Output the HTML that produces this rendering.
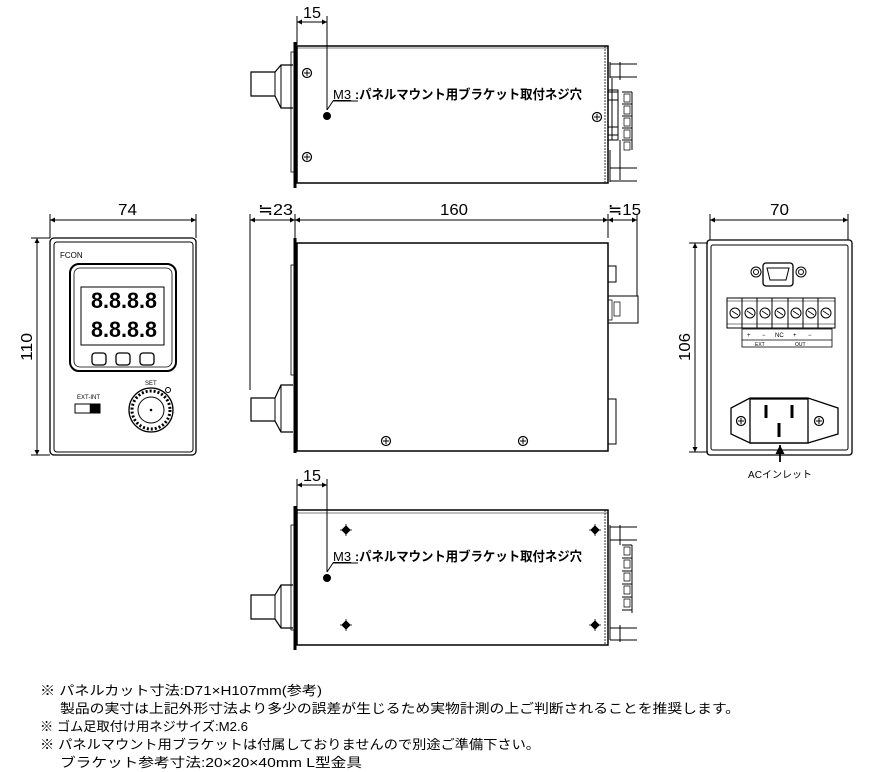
<!DOCTYPE html>
<html><head><meta charset="utf-8"><style>
html,body{margin:0;padding:0;background:#fff;}
svg{display:block;}
text{font-family:"Liberation Sans","Noto Sans CJK JP",sans-serif;fill:#000;}
</style></head><body>
<svg width="879" height="772" viewBox="0 0 879 772" xmlns="http://www.w3.org/2000/svg">
<defs>
<marker id="a" viewBox="0 0 10 10" refX="10" refY="5" markerWidth="7" markerHeight="5" orient="auto-start-reverse"><path d="M0,0 L10,5 L0,10 z" fill="#000"/></marker>
<g id="scr"><circle r="4.5" fill="#fff" stroke="#000" stroke-width="1.2"/><path d="M-3,0H3M0,-3V3" stroke="#000" stroke-width="1"/></g>
<g id="dia"><path d="M0,-4L4,0L0,4L-4,0z" fill="#000"/><path d="M0,-6V6M-6,0H6" stroke="#000" stroke-width="0.8"/></g>
</defs>
<g fill="none" stroke="#000" stroke-width="1">

<!-- ===== TOP VIEW ===== -->
<line x1="297" y1="22" x2="327" y2="22" marker-start="url(#a)" marker-end="url(#a)"/>
<line x1="297" y1="16" x2="297" y2="45"/>
<line x1="327" y1="16" x2="327" y2="110"/>
<path d="M327,110 L333,101 L358,101"/>
<circle cx="327" cy="116" r="3.5" fill="#000"/>
<rect x="297" y="46" width="311" height="137" stroke-width="1.5"/>
<line x1="297" y1="48" x2="608" y2="48" stroke-width="0.6"/>
<line x1="295" y1="42" x2="295" y2="188" stroke-width="3"/>
<rect x="291" y="52" width="3" height="120" stroke-width="0.8"/>
<path d="M293,65 H281 L275,72 H251 V96 H275 L281,108 H293" stroke-width="1.2"/>
<line x1="275" y1="72" x2="275" y2="96"/>
<line x1="281" y1="65" x2="281" y2="108"/>
<line x1="605" y1="46" x2="605" y2="183" stroke-dasharray="2,1" stroke-width="0.8"/>
<g stroke-width="1">
<path d="M610,62V78M610,64H637M610,77H637M612,78V140M620,62V80M620,140V180M610,150V182M610,168H637M610,181H637"/>
<rect x="608" y="90" width="10" height="50"/>
<rect x="608" y="127" width="10" height="8"/>
<rect x="608" y="92" width="10" height="8"/>
<path d="M622,92h10M622,104h10M622,116h10M622,128h10M622,140h10M632,92v58"/>
<path d="M624,94h6v8h-6zM624,106h6v8h-6zM624,118h6v8h-6zM624,130h6v8h-6zM624,142h6v8h-6z" stroke-width="0.7"/>
</g>
<use href="#scr" x="307" y="73"/>
<use href="#scr" x="307" y="157"/>
<use href="#scr" x="597" y="117"/>

<!-- ===== SIDE VIEW ===== -->
<line x1="250" y1="220" x2="295" y2="220" marker-start="url(#a)" marker-end="url(#a)"/>
<line x1="295" y1="220" x2="608" y2="220" marker-start="url(#a)" marker-end="url(#a)"/>
<line x1="608" y1="220" x2="637" y2="220" marker-start="url(#a)" marker-end="url(#a)"/>
<line x1="250" y1="214" x2="250" y2="390"/>
<line x1="295" y1="214" x2="295" y2="238"/>
<line x1="608" y1="214" x2="608" y2="238"/>
<line x1="637" y1="214" x2="637" y2="296"/>
<rect x="297" y="243" width="311" height="208" stroke-width="1.5"/>
<line x1="295" y1="238" x2="295" y2="453" stroke-width="3"/>
<rect x="291" y="265" width="3" height="110" stroke-width="0.8"/>
<path d="M293,385 H281 L275,398 H251 V421 H275 L281,432 H293" stroke-width="1.2"/>
<line x1="275" y1="398" x2="275" y2="421"/>
<line x1="281" y1="385" x2="281" y2="432"/>
<rect x="608" y="266" width="8" height="16"/>
<rect x="608" y="296" width="30" height="27"/>
<path d="M614,302h6v14h-6zM608,300h4v20h-4z" stroke-width="0.7"/>
<rect x="608" y="399" width="8" height="45"/>
<use href="#scr" x="386" y="441"/>
<use href="#scr" x="523" y="441"/>

<!-- ===== BOTTOM VIEW ===== -->
<line x1="297" y1="485" x2="327" y2="485" marker-start="url(#a)" marker-end="url(#a)"/>
<line x1="297" y1="479" x2="297" y2="510"/>
<line x1="327" y1="479" x2="327" y2="572"/>
<path d="M327,572 L333,563 L358,563"/>
<circle cx="327" cy="578" r="3.5" fill="#000"/>
<rect x="297" y="510" width="311" height="135" stroke-width="1.5"/>
<line x1="297" y1="513" x2="608" y2="513" stroke-width="0.6"/>
<line x1="295" y1="506" x2="295" y2="650" stroke-width="3"/>
<rect x="291" y="525" width="3" height="105" stroke-width="0.8"/>
<path d="M293,585 H281 L275,595 H251 V619 H275 L281,628 H293" stroke-width="1.2"/>
<line x1="275" y1="595" x2="275" y2="619"/>
<line x1="281" y1="585" x2="281" y2="628"/>
<line x1="605" y1="510" x2="605" y2="645" stroke-dasharray="2,1" stroke-width="0.8"/>
<path d="M610,525V640M610,527H637M610,540H637M610,628H637M610,640H637M620,525V545M620,625V642"/>
<path d="M622,545h10M622,558h10M622,571h10M622,584h10M622,597h10M622,610h10M632,545v68"/>
<path d="M624,547h6v8h-6zM624,560h6v8h-6zM624,573h6v8h-6zM624,586h6v8h-6zM624,599h6v8h-6z" stroke-width="0.7"/>
<use href="#dia" x="346" y="530"/>
<use href="#dia" x="346" y="625"/>
<use href="#dia" x="595" y="530"/>
<use href="#dia" x="595" y="625"/>

<!-- ===== FRONT VIEW ===== -->
<line x1="50" y1="220" x2="196" y2="220" marker-start="url(#a)" marker-end="url(#a)"/>
<line x1="50" y1="214" x2="50" y2="238"/>
<line x1="196" y1="214" x2="196" y2="238"/>
<line x1="37" y1="238" x2="37" y2="455" marker-start="url(#a)" marker-end="url(#a)"/>
<line x1="31" y1="238" x2="50" y2="238"/>
<line x1="31" y1="455" x2="50" y2="455"/>
<rect x="50" y="238" width="146" height="217" rx="4" stroke-width="1.3"/>
<rect x="54" y="242" width="139" height="210" rx="3"/>
<rect x="70" y="264" width="106" height="107" rx="9" stroke-width="2"/>
<rect x="74" y="268" width="98" height="99" rx="6" stroke-width="0.8"/>
<rect x="81" y="287" width="83" height="58"/>
<rect x="92" y="353" width="14" height="12" rx="3" stroke-width="1.3"/>
<rect x="116" y="353" width="14" height="12" rx="3" stroke-width="1.3"/>
<rect x="140" y="353" width="14" height="12" rx="3" stroke-width="1.3"/>
<rect x="75" y="404" width="25" height="9"/>
<rect x="90" y="404" width="10" height="9" fill="#000" stroke-width="0.5"/>
<circle cx="151" cy="410" r="22" stroke-width="1.3"/>
<circle cx="151" cy="410" r="19" stroke-width="3" stroke-dasharray="2,2"/>
<circle cx="151" cy="410" r="13"/>
<circle cx="151" cy="410" r="0.8" fill="#000"/>
<circle cx="168" cy="390" r="2.5"/>

<!-- ===== REAR VIEW ===== -->
<line x1="710" y1="220" x2="848" y2="220" marker-start="url(#a)" marker-end="url(#a)"/>
<line x1="710" y1="214" x2="710" y2="240"/>
<line x1="848" y1="214" x2="848" y2="240"/>
<line x1="695" y1="243" x2="695" y2="452" marker-start="url(#a)" marker-end="url(#a)"/>
<line x1="689" y1="243" x2="708" y2="243"/>
<line x1="689" y1="452" x2="708" y2="452"/>
<rect x="707" y="240" width="145" height="215" rx="3" stroke-width="1.3"/>
<rect x="711" y="245" width="137" height="205" rx="2"/>
<rect x="763" y="263" width="30" height="23" rx="3" stroke-width="1.3"/>
<path d="M767,268h22l-3,12h-16z"/>
<circle cx="756" cy="272" r="5"/><circle cx="756" cy="272" r="2.5"/>
<circle cx="801" cy="272" r="5"/><circle cx="801" cy="272" r="2.5"/>
<g stroke-width="1">
<rect x="727" y="298" width="108" height="30"/>
<path d="M742,298v30M757,298v30M772,298v30M788,298v30M803,298v30M818,298v30"/>
<path d="M727,301h108M727,324h108" stroke-width="0.6"/>
</g>
<g fill="#fff">
<circle cx="735" cy="313" r="5"/><circle cx="750" cy="313" r="5"/><circle cx="765" cy="313" r="5"/><circle cx="780" cy="313" r="5"/><circle cx="796" cy="313" r="5"/><circle cx="811" cy="313" r="5"/><circle cx="826" cy="313" r="5"/>
</g>
<path d="M732,311l6,4M747,311l6,4M762,311l6,4M777,311l6,4M793,311l6,4M808,311l6,4M823,311l6,4" stroke-width="0.8"/>
<rect x="742" y="329" width="90" height="18" stroke-width="0.8"/>
<line x1="742" y1="340" x2="832" y2="340" stroke-width="0.8"/>
<path d="M750,398 H808 L838,408 V434 L808,443 H750 L731,434 V408 Z" stroke-width="1.3"/>
<rect x="750" y="399" width="58" height="44" stroke-width="1.3"/>
<use href="#scr" x="741" y="421"/>
<use href="#scr" x="819" y="421"/>
<path d="M766,405v13M792,405v13M779,423v14" stroke-width="3"/>
<line x1="780" y1="462" x2="780" y2="445" stroke-width="1.8" marker-end="url(#a)"/>
</g>

<!-- ===== TEXT ===== -->
<g font-size="16">
<text x="303" y="18" textLength="18" lengthAdjust="spacingAndGlyphs">15</text>
<text x="303" y="481" textLength="18" lengthAdjust="spacingAndGlyphs">15</text>
<text x="258" y="215" textLength="35" lengthAdjust="spacingAndGlyphs">≒23</text>
<text x="440" y="215" textLength="28" lengthAdjust="spacingAndGlyphs">160</text>
<text x="608" y="215" textLength="33" lengthAdjust="spacingAndGlyphs">≒15</text>
<text x="118" y="215" textLength="19" lengthAdjust="spacingAndGlyphs">74</text>
<text x="770" y="215" textLength="19" lengthAdjust="spacingAndGlyphs">70</text>
<text x="32" y="347" transform="rotate(-90 32 347)" text-anchor="middle" textLength="28" lengthAdjust="spacingAndGlyphs">110</text>
<text x="690" y="347" transform="rotate(-90 690 347)" text-anchor="middle" textLength="28" lengthAdjust="spacingAndGlyphs">106</text>
</g>
<g font-size="13">
<text x="333" y="99" fill="#1a2a5a" text-decoration="underline">M3</text>
<text x="355" y="99" font-weight="bold" textLength="227" lengthAdjust="spacingAndGlyphs">:パネルマウント用ブラケット取付ネジ穴</text>
<text x="333" y="561" fill="#1a2a5a" text-decoration="underline">M3</text>
<text x="355" y="561" font-weight="bold" textLength="227" lengthAdjust="spacingAndGlyphs">:パネルマウント用ブラケット取付ネジ穴</text>
</g>
<g font-size="7">
<text x="60" y="258" font-size="8">FCON</text>
<text x="77" y="399" font-size="6">EXT-INT</text>
<text x="145" y="385" font-size="6">SET</text>
<text x="747" y="337" font-size="6">+</text><text x="762" y="337" font-size="6">−</text><text x="775" y="337" font-size="6">NC</text><text x="793" y="337" font-size="6">+</text><text x="808" y="337" font-size="6">−</text>
<text x="755" y="346" font-size="5">EXT</text><text x="795" y="346" font-size="5">OUT</text>
</g>
<g font-weight="bold" font-size="22">
<text x="91" y="308" textLength="66" lengthAdjust="spacingAndGlyphs">8.8.8.8</text>
<text x="91" y="337" textLength="66" lengthAdjust="spacingAndGlyphs">8.8.8.8</text>
</g>
<text x="780" y="478" font-size="10" text-anchor="middle">ACインレット</text>
<g font-size="13">
<text x="40" y="695" textLength="282" lengthAdjust="spacingAndGlyphs">※ パネルカット寸法:D71×H107mm(参考)</text>
<text x="60" y="713" textLength="680" lengthAdjust="spacingAndGlyphs">製品の実寸は上記外形寸法より多少の誤差が生じるため実物計測の上ご判断されることを推奨します。</text>
<text x="40" y="731" textLength="208" lengthAdjust="spacingAndGlyphs">※ ゴム足取付け用ネジサイズ:M2.6</text>
<text x="40" y="749" textLength="500" lengthAdjust="spacingAndGlyphs">※ パネルマウント用ブラケットは付属しておりませんので別途ご準備下さい。</text>
<text x="60" y="767" textLength="302" lengthAdjust="spacingAndGlyphs">ブラケット参考寸法:20×20×40mm L型金具</text>
</g>
</svg>
</body></html>
